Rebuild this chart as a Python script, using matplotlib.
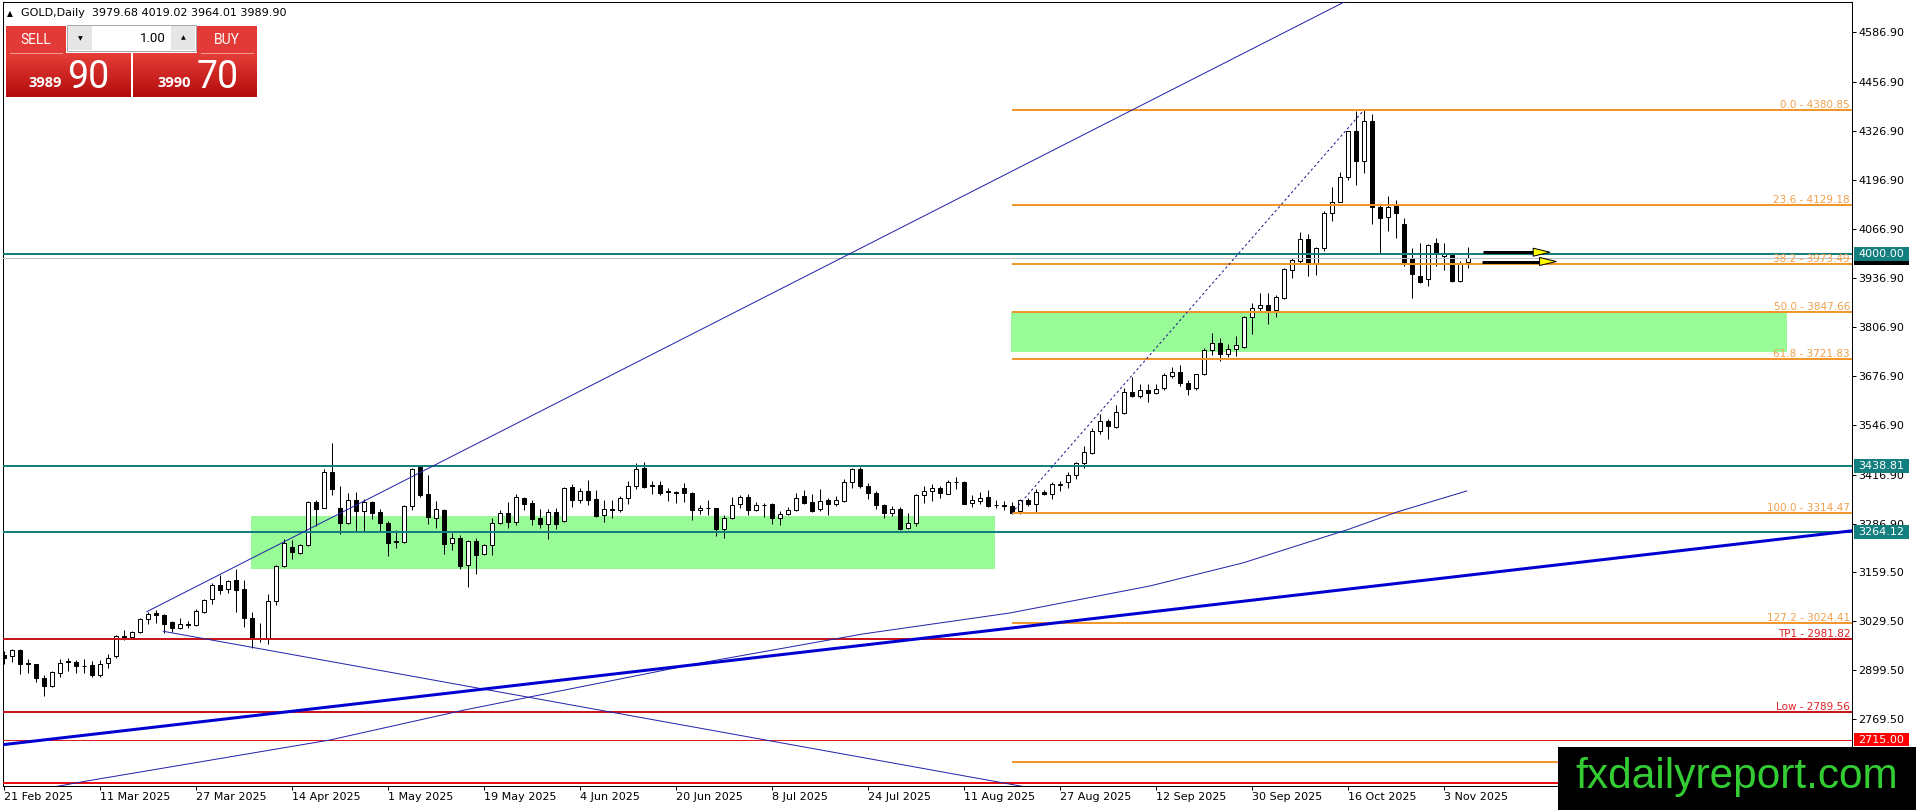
import numpy as np
import matplotlib.pyplot as plt
from matplotlib.patches import Rectangle
from matplotlib.colors import LinearSegmentedColormap

W, H = 1916, 810
DPI = 100

# daily candles, 21 Feb 2025 (bar 0) .. 6 Nov 2025
opens = [2938.7, 2936.0, 2952.8, 2917.5, 2914.9, 2878.7, 2855.8, 2892.8, 2920.1, 2921.9,
         2911.3, 2912.2, 2884.9, 2917.5, 2936.9, 2988.9, 2987.2, 2999.5, 3033.9, 3049.8,
         3045.4, 3026.0, 3010.1, 3022.4, 3018.0, 3054.2, 3086.8, 3123.8, 3113.2, 3137.0,
         3113.2, 3036.5, 2985.4, 2981.0, 3081.5, 3174.1, 3226.1, 3210.2, 3229.6, 3344.2,
         3329.3, 3423.6, 3327.5, 3287.8, 3348.7, 3321.3, 3344.2, 3318.7, 3288.7, 3241.1,
         3239.4, 3334.6, 3436.9, 3364.6, 3302.9, 3323.1, 3235.0, 3249.1, 3176.8, 3241.1,
         3205.9, 3229.7, 3289.6, 3314.3, 3292.3, 3354.0, 3340.8, 3302.0, 3287.0, 3317.8,
         3293.2, 3383.1, 3350.5, 3372.5, 3352.2, 3310.8, 3325.8, 3322.3, 3354.0, 3385.7,
         3433.4, 3389.3, 3388.4, 3372.5, 3371.6, 3381.3, 3368.1, 3322.3, 3329.3, 3327.5,
         3272.0, 3301.1, 3338.1, 3356.6, 3324.0, 3336.5, 3339.8, 3301.0, 3311.6, 3322.2,
         3360.1, 3343.4, 3324.9, 3348.7, 3338.1, 3346.9, 3397.2, 3431.5, 3387.5, 3368.9,
         3336.3, 3314.3, 3324.9, 3274.6, 3289.6, 3361.9, 3373.3, 3380.4, 3366.3, 3398.0,
         3397.1, 3342.5, 3346.9, 3357.5, 3336.3, 3335.4, 3333.7, 3320.4, 3349.5, 3338.1,
         3371.6, 3364.6, 3390.1, 3396.3, 3415.7, 3448.3, 3474.8, 3531.2, 3558.5, 3543.5,
         3578.8, 3635.2, 3623.8, 3640.5, 3631.7, 3645.0, 3677.5, 3688.1, 3660.0, 3645.0,
         3683.7, 3745.4, 3763.9, 3734.8, 3748.0, 3755.1, 3833.6, 3856.5, 3864.4, 3852.1,
         3884.7, 3957.0, 3981.7, 4039.0, 3977.3, 4015.2, 4107.8, 4138.6, 4204.7, 4327.3,
         4246.2, 4353.8, 4124.5, 4098.1, 4127.2, 4078.7, 3988.7, 3942.0, 3933.2, 4031.0,
         3994.9, 3997.6, 3928.8, 3979.68]
highs = [2950.1, 2955.4, 2954.5, 2928.1, 2916.6, 2886.6, 2895.5, 2928.1, 2930.7, 2927.2,
         2928.1, 2923.7, 2925.4, 2941.3, 2991.6, 3004.8, 3003.0, 3038.3, 3054.2, 3059.5,
         3048.9, 3029.5, 3036.5, 3029.5, 3060.3, 3087.7, 3129.1, 3150.3, 3138.8, 3167.0,
         3137.0, 3054.2, 3024.2, 3101.8, 3177.6, 3245.5, 3244.6, 3232.3, 3346.9, 3348.7,
         3430.7, 3500.3, 3386.6, 3368.9, 3370.7, 3351.3, 3346.9, 3324.8, 3294.0, 3270.2,
         3336.4, 3435.1, 3439.5, 3415.7, 3346.9, 3324.9, 3263.2, 3257.0, 3242.9, 3249.9,
         3232.3, 3301.1, 3324.0, 3345.2, 3364.6, 3357.5, 3348.7, 3324.9, 3324.9, 3329.3,
         3384.0, 3391.0, 3380.4, 3401.6, 3375.2, 3348.7, 3348.7, 3360.2, 3399.8, 3446.6,
         3450.1, 3399.8, 3398.9, 3382.2, 3373.4, 3393.7, 3369.9, 3336.4, 3348.7, 3327.5,
         3309.9, 3356.6, 3361.9, 3364.6, 3344.3, 3342.5, 3342.5, 3320.4, 3331.0, 3367.2,
         3375.1, 3364.5, 3377.8, 3353.9, 3360.1, 3404.2, 3435.1, 3437.7, 3394.5, 3373.3,
         3339.8, 3333.7, 3331.9, 3316.0, 3364.5, 3386.6, 3391.0, 3385.7, 3401.6, 3410.4,
         3399.8, 3361.9, 3370.7, 3375.1, 3348.7, 3346.9, 3345.1, 3351.3, 3353.9, 3377.8,
         3375.1, 3398.1, 3399.8, 3424.5, 3451.0, 3492.4, 3540.9, 3576.2, 3564.7, 3600.9,
         3646.7, 3674.9, 3655.5, 3655.5, 3655.5, 3686.3, 3701.3, 3706.6, 3668.0, 3684.0,
         3752.4, 3791.2, 3778.9, 3761.3, 3783.3, 3836.2, 3871.5, 3896.1, 3897.9, 3891.8,
         3964.0, 3990.5, 4059.3, 4052.2, 4018.7, 4115.7, 4177.4, 4218.0, 4327.3, 4380.2,
         4380.8, 4372.3, 4129.8, 4153.6, 4143.0, 4095.4, 4016.9, 4030.2, 4027.5, 4041.6,
         4028.4, 4003.7, 3981.7, 4019.02]
lows = [2914.9, 2919.3, 2888.4, 2892.8, 2866.4, 2831.1, 2855.0, 2879.6, 2895.5, 2891.1,
        2892.8, 2881.3, 2881.3, 2906.0, 2932.5, 2978.3, 2983.6, 2997.7, 3022.4, 3025.1,
        2997.7, 3001.3, 3008.3, 3011.9, 3016.3, 3050.6, 3075.3, 3100.0, 3104.4, 3054.2,
        3013.6, 2958.9, 2974.8, 2969.5, 3070.9, 3172.3, 3192.6, 3207.6, 3227.9, 3280.8,
        3327.5, 3362.8, 3258.7, 3286.0, 3267.5, 3267.5, 3298.4, 3267.5, 3201.4, 3221.7,
        3236.7, 3322.3, 3357.5, 3287.0, 3274.6, 3205.9, 3216.5, 3166.2, 3120.3, 3153.0,
        3204.1, 3203.2, 3285.2, 3276.4, 3283.5, 3322.3, 3283.5, 3276.4, 3245.5, 3272.0,
        3291.4, 3331.1, 3342.5, 3336.4, 3304.6, 3292.3, 3301.1, 3318.7, 3338.1, 3378.7,
        3382.2, 3364.6, 3363.7, 3346.9, 3341.6, 3345.2, 3295.8, 3311.7, 3309.9, 3255.2,
        3248.2, 3299.3, 3329.3, 3309.9, 3320.5, 3305.0, 3285.2, 3283.4, 3309.9, 3320.4,
        3339.8, 3318.7, 3320.4, 3309.9, 3333.7, 3345.1, 3382.2, 3382.2, 3353.1, 3324.9,
        3301.0, 3307.2, 3269.3, 3271.9, 3280.8, 3342.5, 3346.9, 3355.7, 3364.5, 3377.8,
        3338.1, 3331.0, 3339.8, 3331.0, 3329.3, 3322.2, 3313.4, 3311.6, 3333.7, 3318.7,
        3362.8, 3351.3, 3373.4, 3382.2, 3404.3, 3435.1, 3470.4, 3525.0, 3510.0, 3539.1,
        3577.9, 3622.0, 3618.5, 3609.7, 3629.1, 3640.0, 3673.1, 3650.0, 3628.0, 3640.0,
        3680.1, 3733.1, 3717.2, 3728.6, 3731.3, 3752.4, 3789.5, 3849.4, 3815.9, 3833.6,
        3882.0, 3937.6, 3977.3, 3942.0, 3944.6, 4008.1, 4087.5, 4137.7, 4196.8, 4182.7,
        4214.5, 4078.7, 4001.1, 4061.0, 4041.6, 3968.5, 3884.7, 3924.4, 3915.6, 3968.5,
        3958.8, 3927.0, 3927.0, 3964.01]
closes = [2930.7, 2951.9, 2914.9, 2915.7, 2877.8, 2855.8, 2893.7, 2917.5, 2922.8, 2909.6,
          2909.6, 2887.5, 2914.9, 2932.5, 2988.9, 2981.9, 2999.5, 3034.8, 3047.8, 3044.5,
          3022.4, 3011.9, 3021.5, 3019.8, 3055.9, 3085.0, 3124.7, 3112.4, 3134.4, 3112.4,
          3038.3, 2984.5, 2981.9, 3081.5, 3175.0, 3235.8, 3211.1, 3229.6, 3344.2, 3326.6,
          3423.6, 3379.5, 3287.8, 3348.7, 3320.4, 3345.1, 3316.0, 3287.8, 3236.7, 3237.6,
          3333.7, 3430.7, 3362.8, 3304.6, 3324.9, 3234.1, 3249.1, 3175.0, 3241.1, 3203.2,
          3229.7, 3287.9, 3314.3, 3291.4, 3357.5, 3339.9, 3300.2, 3287.0, 3317.8, 3287.0,
          3381.3, 3350.5, 3372.5, 3350.5, 3307.3, 3325.8, 3322.3, 3354.9, 3385.7, 3430.7,
          3384.0, 3385.7, 3367.2, 3370.7, 3368.1, 3367.2, 3322.3, 3329.3, 3328.4, 3272.0,
          3301.1, 3337.2, 3356.6, 3323.1, 3335.5, 3335.5, 3301.0, 3311.6, 3322.2, 3353.9,
          3342.5, 3320.4, 3346.9, 3338.1, 3349.5, 3398.0, 3431.5, 3385.7, 3368.1, 3335.4,
          3314.3, 3324.9, 3271.9, 3289.6, 3361.9, 3373.3, 3382.2, 3367.2, 3398.0, 3397.1,
          3339.8, 3349.5, 3353.9, 3333.7, 3335.4, 3334.6, 3316.0, 3348.7, 3338.1, 3369.8,
          3364.5, 3392.8, 3391.0, 3415.7, 3446.6, 3475.7, 3531.2, 3558.5, 3545.3, 3583.2,
          3635.2, 3624.7, 3640.5, 3632.6, 3644.1, 3680.1, 3688.1, 3660.0, 3644.0, 3683.7,
          3747.1, 3763.9, 3734.8, 3748.9, 3758.6, 3833.6, 3856.5, 3864.4, 3851.2, 3886.5,
          3960.5, 3983.5, 4039.0, 3977.3, 4015.2, 4107.8, 4138.6, 4205.6, 4325.5, 4247.9,
          4353.8, 4124.5, 4096.3, 4124.5, 4109.5, 3979.9, 3948.2, 3927.0, 4024.0, 4001.1,
          4001.1, 3928.8, 3977.3, 3989.90]

bid = 3989.90
ask = 3990.70

date_bars = list(range(0, 181, 12))
date_labels = ['21 Feb 2025', '11 Mar 2025', '27 Mar 2025', '14 Apr 2025', '1 May 2025',
               '19 May 2025', '4 Jun 2025', '20 Jun 2025', '8 Jul 2025', '24 Jul 2025',
               '11 Aug 2025', '27 Aug 2025', '12 Sep 2025', '30 Sep 2025', '16 Oct 2025',
               '3 Nov 2025']

price_ticks = [4586.90, 4456.90, 4326.90, 4196.90, 4066.90, 3936.90, 3806.90, 3676.90,
               3546.90, 3416.90, 3286.90, 3159.50, 3029.50, 2899.50, 2769.50]

# fibonacci retracement drawn from the Aug low (bar 126) to the Oct high (bar 170)
fib_start = 126
fib_end = 170
fib_levels = [0.0, 23.6, 38.2, 50.0, 61.8, 100.0, 127.2, 161.8]
fib_prices = [4380.85, 4129.18, 3973.49, 3847.66, 3721.83, 3314.47, 3024.41, 2655.37]

teal_levels = [4000.00, 3438.81, 3264.12]
tp1 = 2981.82
low_level = 2789.56
red_thin = 2715.00
red_bottom = 2601.0

# green zones: (bar from, bar to, price low, price high)
zone1 = (30.9, 123.9, 3167.6, 3307.1)
zone2 = (125.9, 222.9, 3741.2, 3847.66)

# trend lines (bar, price)
up_ray = [(17.9, 3053.8), (142.05, 4392.3)]
down_ray = [(19.96, 3001.9), (49.55, 2888.8)]
thick_line_x = [0, 231.1]
thick_line_p = [2702.0, 3268.0]
curve_x = [5.0, 10.4, 40.8, 57.6, 87.1, 107.4, 125.8, 143.3, 154.9, 167.9, 174.2, 182.9]
curve_p = [2585.0, 2605.6, 2714.2, 2793.6, 2918.0, 2994.8, 3050.4, 3121.9, 3182.8, 3270.2,
           3317.8, 3373.4]

# arrows: (shaft start bar, head base bar, tip bar, price)
arrows = [(184.96, 191.2, 193.3, 4005.3), (184.75, 192.0, 194.1, 3980.7)]

# ---------------------------------------------------------------
ORANGE = '#f0962d'
TEAL = '#137f7e'
NAVY = '#2323a8'
px = 0.72  # one pixel in points

fig = plt.figure(figsize=(W / DPI, H / DPI), dpi=DPI)
fig.patch.set_facecolor('white')
ax = fig.add_axes([2.5 / W, (H - 786) / H, (1852.3 - 2.5) / W, (786 - 2) / H])
ax.set_xlim(-0.1375, 231.09)
ax.set_ylim(2592.4, 4667.6)

x = np.arange(len(opens))
o = np.array(opens)
c = np.array(closes)
bull = c >= o

# zones (background objects)
for z in (zone1, zone2):
    ax.add_patch(Rectangle((z[0], z[2]), z[1] - z[0], z[3] - z[2],
                           facecolor='#98fb98', edgecolor='none', zorder=1))

# candles
ax.vlines(x, lows, highs, colors='black', linewidth=px, zorder=2)
ax.bar(x, np.abs(c - o), bottom=np.minimum(o, c), width=0.5,
       color=np.where(bull, 'white', 'black'), edgecolor='black', linewidth=px, zorder=3)

# horizontal levels
for lv in teal_levels:
    ax.axhline(lv, color=TEAL, linewidth=2 * px, zorder=4)
ax.axhline(bid, color='#c0c0c0', linewidth=px, zorder=4)
ax.axhline(tp1, color='#c8161b', linewidth=2 * px, zorder=4)
ax.axhline(low_level, color='#c8161b', linewidth=2 * px, zorder=4)
ax.axhline(red_thin, color='#e31b1b', linewidth=px, zorder=4)
ax.axhline(red_bottom, color='#e81010', linewidth=2 * px, zorder=4)

ax.hlines(fib_prices, fib_start, 231.09, colors=ORANGE, linewidth=2 * px, zorder=4)
ytr = ax.get_yaxis_transform()
# the 161.8 label sits under the watermark, so only the visible ones are written
for lvl, p in zip(fib_levels[:-1], fib_prices[:-1]):
    ax.annotate(f'{lvl:.1f} - {p:.2f}', xy=(0.9988, p), xycoords=ytr, xytext=(0, 2),
                textcoords='offset pixels', ha='right', va='baseline',
                fontsize=7.5, color='#f0a04b', zorder=5)
for name, p in (('TP1', tp1), ('Low', low_level)):
    ax.annotate(f'{name} - {p:.2f}', xy=(0.9988, p), xycoords=ytr, xytext=(0, 2),
                textcoords='offset pixels', ha='right', va='baseline',
                fontsize=7.5, color='#e02020', zorder=5)

# trend lines
(x1, p1), (x2, p2) = up_ray
k = (p2 - p1) / (x2 - x1)
ax.plot([x1, 200], [p1, p1 + k * (200 - x1)], color=NAVY, linewidth=px, zorder=4)
(x1, p1), (x2, p2) = down_ray
k = (p2 - p1) / (x2 - x1)
ax.plot([x1, 140], [p1, p1 + k * (140 - x1)], color=NAVY, linewidth=px, zorder=4)
ax.plot(curve_x, curve_p, color=NAVY, linewidth=px, zorder=4)
ax.plot(thick_line_x, thick_line_p, color='#0000d0', linewidth=3 * px, zorder=4)
ax.plot([fib_start, fib_end], [fib_prices[5], fib_prices[0]], color='#1a1a8c',
        linewidth=px, dashes=(2.5, 2.5), zorder=4)

# arrows
for s, b, t, p in arrows:
    ax.plot([s, b + 0.3], [p, p], color='black', linewidth=3 * px, zorder=5,
            solid_capstyle='butt')
    ax.fill([b, t, b], [p + 10.6, p, p - 10.6], facecolor='#ffff00', edgecolor='black',
            linewidth=px, zorder=6)

# axes look
for sp in ax.spines.values():
    sp.set_linewidth(px)
    sp.set_color('black')
ax.yaxis.tick_right()
ax.set_yticks(price_ticks)
ax.set_yticklabels([f'{t:.2f}' for t in price_ticks])
ax.set_xticks(date_bars)
ax.set_xticklabels(date_labels)
for lbl in ax.get_xticklabels():
    lbl.set_ha('left')
ax.tick_params(axis='both', direction='out', length=2.9, width=px, pad=1.5,
               labelsize=8, colors='black')
ax.set_xlim(-0.1375, 231.09)
ax.set_ylim(2592.4, 4667.6)


def price_box(p, text, fc, z=6):
    h = 13.5 * 2.647
    ax.add_patch(Rectangle((1.0009, p - h / 2), 0.0297, h, transform=ytr,
                           facecolor=fc, edgecolor='none', clip_on=False, zorder=z))
    if text:
        ax.text(1.0158, p, text, transform=ytr, ha='center', va='center', fontsize=8,
                color='white', clip_on=False, zorder=z + 0.5)


# bid label is almost fully hidden behind the 4000.00 box
price_box(bid, '', 'black', z=5)
for lv in teal_levels:
    price_box(lv, f'{lv:.2f}', TEAL)
price_box(red_thin, f'{red_thin:.2f}', '#ff0000')

# ---------------- overlay in pixel coordinates ----------------
ov = fig.add_axes([0, 0, 1, 1], zorder=10)
ov.axis('off')
ov.patch.set_visible(False)

ov.text(10, 13.5, '\u25b2', fontsize=5.5, ha='center', va='center')
ov.text(21.5, 13.5, f'GOLD,Daily  {opens[-1]:.2f} {highs[-1]:.2f} {lows[-1]:.2f} {closes[-1]:.2f}',
        fontsize=8, va='center', ha='left')

red_cm = LinearSegmentedColormap.from_list('btn', ['#e63e38', '#b20c0c'])
grad = np.linspace(0, 1, 64).reshape(-1, 1)
for x0, x1_ in ((6, 131), (133, 257)):
    ov.imshow(grad, extent=(x0, x1_, 97, 53), cmap=red_cm, aspect='auto', zorder=1)
for x0 in (6, 197):
    ov.add_patch(Rectangle((x0, 26), 60, 27, facecolor='#e23a36', edgecolor='none', zorder=1))
    ov.plot([x0 + 4, x0 + 56], [52.5, 52.5], color='#f39a96', linewidth=px, zorder=2)
ov.text(36, 39.5, 'SELL', color='white', fontsize=10, family='Roboto', ha='center', va='center')
ov.text(227, 39.5, 'BUY', color='white', fontsize=10, family='Roboto', ha='center', va='center')

ov.add_patch(Rectangle((67.5, 25), 128.5, 26, facecolor='white', edgecolor='#a8a8a8',
                       linewidth=px, zorder=1))
for x0 in (68.5, 171):
    ov.add_patch(Rectangle((x0, 26), 24, 24, facecolor='#e6e6e6', edgecolor='none', zorder=2))
ov.text(80.5, 38.5, '\u25bc', fontsize=4.5, ha='center', va='center')
ov.text(183, 38, '\u25b2', fontsize=4.5, ha='center', va='center')
ov.text(166, 38.5, '1.00', fontsize=9.5, ha='right', va='center', family='Roboto')

bid_s = f'{bid:.2f}'
ask_s = f'{ask:.2f}'
for big_x, small_x, s in ((67, 62, bid_s), (197, 191, ask_s)):
    ov.text(small_x, 87, s[:4], color='white', fontsize=10.5, fontweight='bold',
            family='Open Sans', ha='right', va='baseline', zorder=3)
    ov.text(big_x, 87.5, s[5:7], color='white', fontsize=27, family='Roboto',
            ha='left', va='baseline', zorder=3)

# watermark
ov.add_patch(Rectangle((1558, 747), 358, 63, facecolor='black', edgecolor='none', zorder=5))
ov.text(1575, 788, 'fxdailyreport.com', color='#33cc33', fontsize=30.5,
        family='Liberation Sans', ha='left', va='baseline', zorder=6)

ov.set_xlim(0, W)
ov.set_ylim(H, 0)

fig.savefig('out.png', dpi=DPI)
